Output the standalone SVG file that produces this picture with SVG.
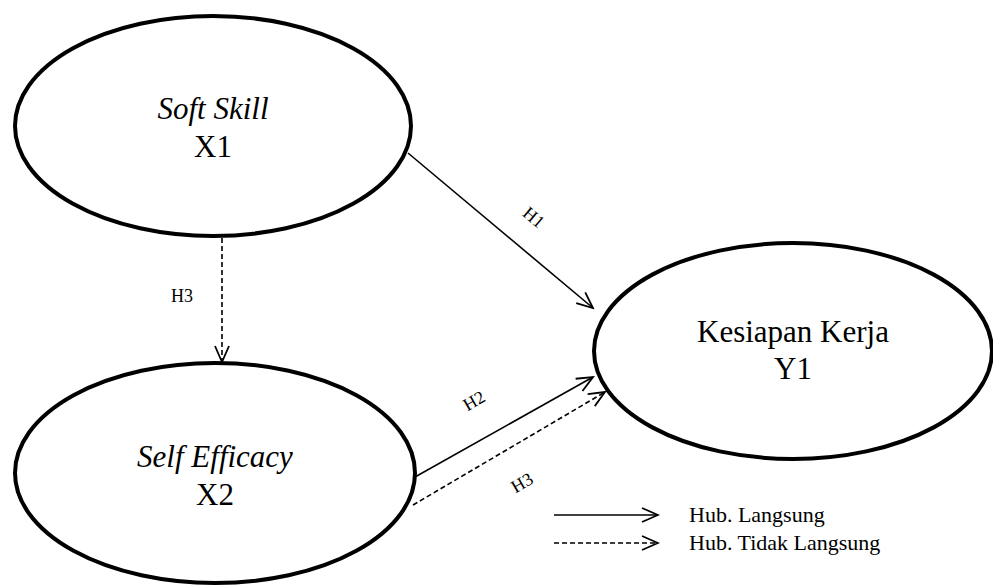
<svg xmlns="http://www.w3.org/2000/svg" width="993" height="586" viewBox="0 0 993 586">
<style>
.node ellipse{fill:#fff;stroke:#000;stroke-width:4}
.c{stroke:#000;stroke-width:1.6;fill:none}
.d{stroke-dasharray:5 3}
</style>
<defs>
<marker id="arr" markerUnits="userSpaceOnUse" markerWidth="20" markerHeight="20" viewBox="-18 -10 20 20" refX="0" refY="0" orient="auto">
<path d="M-16,-7 L0,0 L-16,7" fill="none" stroke="#000" stroke-width="1.8"/>
</marker>
</defs>
<rect width="993" height="586" fill="#fff"/>
<g id="connectors">
<line class="c" x1="408" y1="153" x2="593" y2="308" marker-end="url(#arr)"/>
<line class="c d" x1="222" y1="238" x2="222" y2="362" marker-end="url(#arr)"/>
<line class="c" x1="415" y1="477" x2="593" y2="377" marker-end="url(#arr)"/>
<line class="c d" x1="413" y1="505" x2="605" y2="392" marker-end="url(#arr)"/>
<g font-family="Liberation Serif, Tinos, Times New Roman, DejaVu Serif, serif" font-size="18" text-anchor="middle" fill="#000">
<text transform="translate(530,222) rotate(40)">H1</text>
<text x="182" y="302">H3</text>
<text transform="translate(477,406) rotate(-30)">H2</text>
<text transform="translate(525,488) rotate(-30)">H3</text>
</g>
</g>
<g id="x1" class="node" font-family="Liberation Serif, Tinos, Times New Roman, DejaVu Serif, serif" font-size="31" text-anchor="middle" fill="#000">
<ellipse cx="213" cy="126" rx="198" ry="110"/>
<text x="213" y="119" font-style="italic">Soft Skill</text>
<text x="213" y="157">X1</text>
</g>
<g id="x2" class="node" font-family="Liberation Serif, Tinos, Times New Roman, DejaVu Serif, serif" font-size="31" text-anchor="middle" fill="#000">
<ellipse cx="215" cy="473" rx="200" ry="110"/>
<text x="215" y="467" font-style="italic">Self Efficacy</text>
<text x="215" y="505">X2</text>
</g>
<g id="y1" class="node" font-family="Liberation Serif, Tinos, Times New Roman, DejaVu Serif, serif" font-size="31" text-anchor="middle" fill="#000">
<ellipse cx="793" cy="351" rx="199" ry="108"/>
<text x="793" y="342">Kesiapan Kerja</text>
<text x="793" y="379">Y1</text>
</g>
<g id="legend" font-family="Liberation Serif, Tinos, Times New Roman, DejaVu Serif, serif" font-size="22" fill="#000">
<line class="c" x1="554" y1="515" x2="658" y2="515" marker-end="url(#arr)"/>
<line class="c d" x1="554" y1="543" x2="658" y2="543" marker-end="url(#arr)"/>
<text x="689" y="522">Hub. Langsung</text>
<text x="689" y="550">Hub. Tidak Langsung</text>
</g>
</svg>
